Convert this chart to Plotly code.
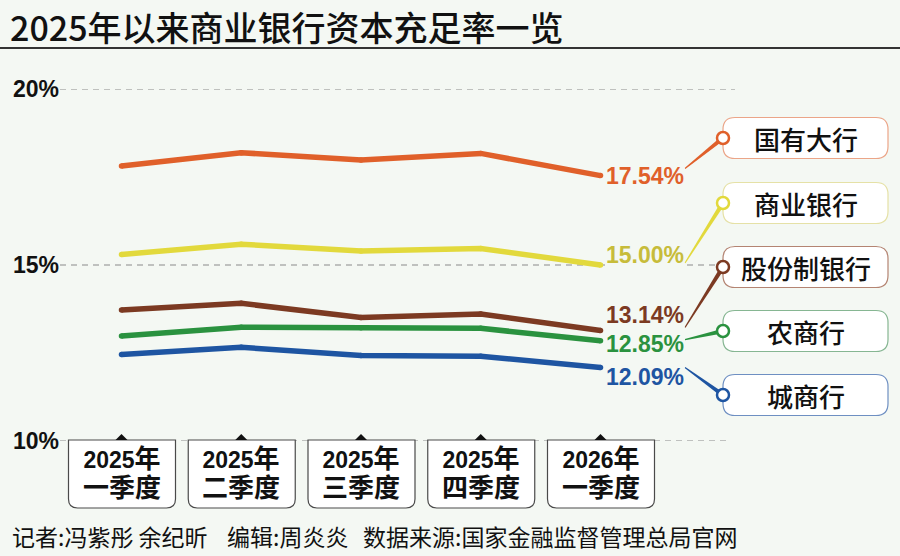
import plotly.graph_objects as go

# ---------------- data ----------------
quarter_year = ["2025", "2025", "2025", "2025", "2026"]
quarter_name = ["一季度", "二季度", "三季度", "四季度", "一季度"]
series_names = ["国有大行", "商业银行", "股份制银行", "农商行", "城商行"]
big_banks = [17.81, 18.19, 17.98, 18.17, 17.54]
all_banks = [15.30, 15.59, 15.40, 15.47, 15.00]
joint_stock = [13.72, 13.91, 13.51, 13.61, 13.14]
rural_banks = [12.98, 13.23, 13.22, 13.20, 12.85]
city_banks = [12.46, 12.66, 12.43, 12.41, 12.09]
y_tick_values = [10, 15, 20]
y_tick_labels = ["10%", "15%", "20%"]

series_values = [big_banks, all_banks, joint_stock, rural_banks, city_banks]

# ---------------- style ----------------
BG = "#F4F8F3"
line_colors = ["#E0602A", "#E2D93C", "#7C3A22", "#2A923F", "#1E55A2"]
label_colors = ["#E0602A", "#C7BC3A", "#7C3A22", "#2A923F", "#1E55A2"]
border_colors = ["#EBA588", "#E5E1A6", "#B48472", "#86B692", "#6E8FC2"]
label_yshift = [0, 10, 15, -3, -10]
conn_start_dy = [-7, -2, -3, -1, 0]      # connector start offset (px) from last point
legend_centers_px = [138, 203, 267, 331, 395]

LAT = "Liberation Sans, Arial, Noto Sans CJK SC, sans-serif"
CJK = "Noto Sans CJK SC, sans-serif"

W, H = 900, 556
L, R, T, B = 60, 733, 89, 441
X_LEFT_PX, X_STEP_PX = 121.5, 119.75
x_idx = list(range(len(quarter_year)))
x_range = [(L - X_LEFT_PX) / X_STEP_PX, (R - X_LEFT_PX) / X_STEP_PX]


def px(x):
    return (x - L) / (R - L)


def py(y):
    return (B - y) / (B - T)


def val_to_py(v):
    return T + (20 - v) / 10 * (B - T)


fig = go.Figure()

shapes = []
annotations = []

# dashed grid lines (drawn as shapes so the edge lines show)
for v, xr in zip(y_tick_values, [730, 718, 735]):
    shapes.append(dict(type="line", xref="paper", yref="y", layer="below",
                       x0=px(60), x1=px(xr), y0=v, y1=v,
                       line=dict(color="#8A8A8A", width=1, dash="6px,5px")))

for name, vals, col in zip(series_names, series_values, line_colors):
    fig.add_trace(go.Scatter(
        x=x_idx, y=vals, mode="lines+markers", name=name,
        line=dict(color=col, width=5.5),
        marker=dict(color=col, size=5.5),
        hoverinfo="skip", showlegend=False,
    ))

# end value labels
for vals, col, ys in zip(series_values, label_colors, label_yshift):
    annotations.append(dict(
        x=x_idx[-1], y=vals[-1], xref="x", yref="y",
        text=f"{vals[-1]:.2f}%", showarrow=False,
        xanchor="left", yanchor="middle", xshift=4, yshift=ys,
        font=dict(family=LAT, size=23, color=col, weight="bold"),
        bgcolor=BG, borderpad=0,
    ))


def rrect(x0, y0, x1, y1, r):
    return (f"M{px(x0 + r)},{py(y0)} L{px(x1 - r)},{py(y0)} "
            f"Q{px(x1)},{py(y0)} {px(x1)},{py(y0 + r)} "
            f"L{px(x1)},{py(y1 - r)} Q{px(x1)},{py(y1)} {px(x1 - r)},{py(y1)} "
            f"L{px(x0 + r)},{py(y1)} Q{px(x0)},{py(y1)} {px(x0)},{py(y1 - r)} "
            f"L{px(x0)},{py(y0 + r)} Q{px(x0)},{py(y0)} {px(x0 + r)},{py(y0)} Z")


# connectors, legend boxes, circles
BOX_X0, BOX_X1, BOX_H = 723, 888, 41
for name, vals, col, bcol, cy, dy in zip(series_names, series_values, line_colors,
                                          border_colors, legend_centers_px, conn_start_dy):
    sx, sy = 685, val_to_py(vals[-1]) + dy
    ex, ey = BOX_X0, cy
    dxv, dyv = ex - sx, ey - sy
    n = (dxv ** 2 + dyv ** 2) ** 0.5
    nx, ny = -dyv / n, dxv / n
    w0, w1 = 0.6, 2.2
    pts = [(sx + nx * w0, sy + ny * w0), (ex + nx * w1, ey + ny * w1),
           (ex - nx * w1, ey - ny * w1), (sx - nx * w0, sy - ny * w0)]
    path = "M" + " L".join(f"{px(a)},{py(b)}" for a, b in pts) + " Z"
    shapes.append(dict(type="path", xref="paper", yref="paper", path=path,
                       fillcolor=col, line=dict(width=0)))
    shapes.append(dict(type="path", xref="paper", yref="paper",
                       path=rrect(BOX_X0, cy - BOX_H / 2, BOX_X1, cy + BOX_H / 2, 12),
                       fillcolor="#FFFFFF", line=dict(color=bcol, width=1.2)))
    shapes.append(dict(type="circle", xref="paper", yref="paper",
                       xsizemode="pixel", ysizemode="pixel",
                       xanchor=px(ex), yanchor=py(ey),
                       x0=-6, x1=6, y0=-6, y1=6,
                       fillcolor="#FFFFFF", line=dict(color=col, width=2.5)))
    annotations.append(dict(
        x=px(805.5), y=py(cy), xref="paper", yref="paper", text=name,
        showarrow=False, xanchor="center", yanchor="middle",
        font=dict(family=CJK, size=26, color="#111111", weight=500),
    ))

# x category boxes
box_path = ("M-53,{t} L54,{t} L54,{b1} Q54,{b} 45,{b} L-44,{b} Q-53,{b} -53,{b1} Z"
            .format(t=py(440), b1=py(499), b=py(508)))
tri_path = "M-6,{t} L6,{t} L0,{a} Z".format(t=py(440), a=py(434))
for i in x_idx:
    shapes.append(dict(type="path", xref="x", yref="paper", xsizemode="pixel",
                       xanchor=i, path=box_path, fillcolor="#FFFFFF",
                       line=dict(color="#4A4A4A", width=1.2)))
    shapes.append(dict(type="path", xref="x", yref="paper", xsizemode="pixel",
                       xanchor=i, path=tri_path, fillcolor="#111111",
                       line=dict(width=0)))
    label = (f"<span style='font-size:23px'>{quarter_year[i]}</span>"
             f"<span style='font-size:26px'>年</span><br>"
             f"<span style='font-size:26px'>{quarter_name[i]}</span>")
    annotations.append(dict(x=i, y=py(473), xref="x", yref="paper",
                            text=label, showarrow=False,
                            xanchor="center", yanchor="middle",
                            font=dict(family=LAT, size=22, color="#111111", weight="bold")))

# title + rule
annotations.append(dict(x=px(8), y=py(26), xref="paper", yref="paper",
                        text="2025年以来商业银行资本充足率一览", showarrow=False,
                        xanchor="left", yanchor="middle",
                        font=dict(family=CJK, size=34, color="#111111", weight=500)))
shapes.append(dict(type="line", xref="paper", yref="paper",
                   x0=px(0), x1=px(900), y0=py(48), y1=py(48),
                   line=dict(color="#333333", width=2)))

# footer
for txt, x0 in [("记者:冯紫彤 余纪昕", 10), ("编辑:周炎炎", 225), ("数据来源:国家金融监督管理总局官网", 361)]:
    annotations.append(dict(x=px(x0), y=py(536), xref="paper", yref="paper",
                            text=txt, showarrow=False, xanchor="left", yanchor="middle",
                            font=dict(family=CJK, size=23, color="#111111")))

fig.update_layout(
    width=W, height=H,
    margin=dict(l=L, r=W - R, t=T, b=H - B, pad=0),
    paper_bgcolor=BG, plot_bgcolor=BG,
    shapes=shapes, annotations=annotations,
    xaxis=dict(range=x_range, showgrid=False, zeroline=False, showticklabels=False,
               showline=False, ticks=""),
    yaxis=dict(range=[10, 20], tickvals=y_tick_values, ticktext=y_tick_labels,
               showgrid=False, zeroline=False, showline=False, ticks="",
               tickfont=dict(family=LAT, size=23, color="#111111", weight="bold")),
)

fig.write_html("out.html")
